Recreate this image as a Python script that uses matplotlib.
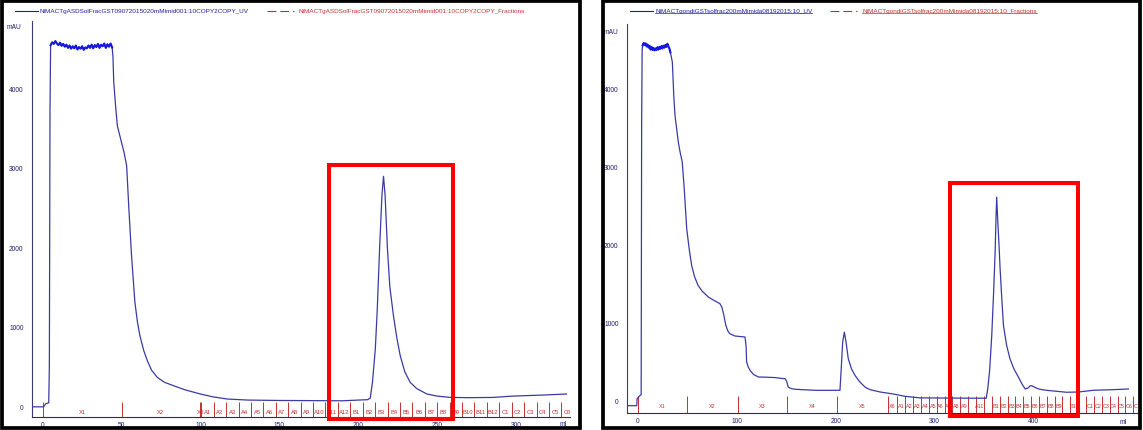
"""Two AKTA UV chromatograms side by side, with fraction marks and highlight boxes."""

import matplotlib

matplotlib.use("Agg")
import matplotlib.pyplot as plt
from matplotlib.lines import Line2D
from matplotlib.patches import Rectangle

W, H = 1143, 431

UV_COLOR = "#3a3aa6"
PLATEAU_COLOR = "#1418e0"
FRAC_COLOR = "#c43030"
TEXT_BLUE = "#1e1ea0"
TICK_COLOR = "#1e1e6e"
FONT = ["Liberation Sans", "DejaVu Sans"]

# ---- left run ---------------------------------------------------------------
left_uv_name = "NiMACTgASDSolFracGST09072015020mMimid001:10COPY2COPY_UV"
left_frac_name = "NiMACTgASDSolFracGST09072015020mMimid001:10COPY2COPY_Fractions"

left_ml = [-6.8, 0.5, 2.0, 3.8, 4.2, 4.4, 4.6,
           5, 6, 7, 8, 9, 10, 11, 12, 13, 14, 15, 16, 17, 18, 19, 20, 21, 22, 23, 24,
           25, 26, 27, 28, 29, 30, 31, 32, 33, 34, 35, 36, 37, 38, 39, 40, 41, 42, 43, 44,
           44.5, 45, 46.2, 47.3, 49.5, 51.5, 53.2, 54.6, 56.3, 58.4, 60, 61.6, 64, 66.3,
           69, 72.6, 77, 83, 90, 100, 108, 117, 130, 150, 170, 190, 200, 206,
           207.6, 209, 210.8, 212, 213.5, 215, 216, 217, 218.5, 220, 222.3, 224.5, 226.6,
           229.5, 232.9, 237, 243.5, 250, 258, 270, 285, 298, 317, 332]
left_mau = [-10, -10, 30, 40, 500, 2000, 3700,
            4540, 4575, 4555, 4590, 4560, 4540, 4570, 4530, 4555, 4520, 4545, 4505, 4535,
            4495, 4525, 4500, 4535, 4485, 4515, 4495, 4525, 4480, 4510, 4500, 4535, 4505,
            4545, 4500, 4540, 4515, 4555, 4505, 4545, 4525, 4560, 4505, 4550, 4520, 4560, 4510,
            4400, 4080, 3770, 3525, 3350, 3195, 3020, 2480, 1890, 1310, 1060, 884, 700, 570,
            450, 361, 300, 255, 205, 151, 115, 88, 75, 70, 68, 66, 75, 80,
            100, 300, 717, 1200, 1975, 2650, 2890, 2650, 1975, 1500, 1136, 850, 633,
            430, 298, 220, 151, 125, 109, 105, 108, 125, 138, 151]

left_frac_edges = [0, 50, 99.6, 100.5, 108.4, 116.2, 124.1, 132.0, 139.9, 147.7, 155.6,
                   163.5, 171.3, 179.2, 187.1, 194.9, 202.8, 210.7, 218.6, 226.4, 234.3,
                   242.2, 250.0, 257.9, 265.8, 273.6, 281.5, 289.4, 297.3, 305.1, 313.0,
                   320.9, 328.7, 336.6]
left_frac_labels = ["X1", "X2", "X3",
                    "A1", "A2", "A3", "A4", "A5", "A6", "A7", "A8", "A9", "A10", "A11", "A12",
                    "B1", "B2", "B3", "B4", "B5", "B6", "B7", "B8", "B9", "B10", "B11", "B12",
                    "C1", "C2", "C3", "C4", "C5", "C6"]
left_xticks = [0, 50, 100, 150, 200, 250, 300]

# ---- right run --------------------------------------------------------------
right_uv_name = "NiMACTgondiGSTsolfrac200mMimida08192015:10_UV"
right_frac_name = "NiMACTgondiGSTsolfrac200mMimida08192015:10_Fractions"

right_ml = [-10.8, -1, -0.5, 2.3, 3.5, 4.0, 4.5,
            5, 6, 7, 8, 9, 10, 11, 12, 13, 14, 15, 16, 17, 18, 19, 20, 21, 22, 23, 24,
            25, 26, 27, 28, 29, 30, 31, 32, 33,
            35, 36.5, 37.7, 41, 43, 45, 47, 49.5, 52, 54.5, 57.5, 61, 65, 71.3, 77, 83,
            85, 87, 89, 91, 93, 98.3, 108.4, 109.5, 110, 111.5, 113.5, 117, 122, 130,
            139, 145, 149, 150.5, 152, 155, 159, 179, 204.3, 205.5, 207, 208.7, 210.5,
            212.7, 216, 219.5, 224, 229.6, 234.7, 245, 258, 270, 285, 320, 352,
            353.5, 355.5, 357.6, 359.5, 361, 362, 362.6, 363.5, 365, 366, 367.8, 369.4,
            372.5, 376, 380, 384.5, 388, 391.4, 394, 396.5, 398, 401, 406, 413, 433,
            445, 460, 480, 495.6]
right_mau = [-60, -60, 30, 70, 80, 3600, 4500,
             4560, 4590, 4565, 4585, 4545, 4570, 4530, 4555, 4505, 4540, 4500, 4525, 4495,
             4520, 4500, 4535, 4505, 4540, 4515, 4550, 4520, 4555, 4530, 4565, 4540, 4580,
             4545, 4520, 4470,
             4345, 3900, 3660, 3320, 3180, 3064, 2721, 2208, 1950, 1738, 1590, 1482, 1410,
             1333, 1290, 1248, 1205, 1100, 970, 900, 863, 833, 820, 700, 500, 440, 392,
             340, 307, 305, 300, 290, 285, 250, 178, 160, 150, 137, 137, 400, 750, 883,
             750, 541, 410, 328, 250, 178, 145, 115, 90, 60, 40, 37, 35,
             150, 400, 841, 1400, 1910, 2400, 2612, 2350, 1980, 1700, 1300, 970,
             720, 541, 410, 307, 220, 154, 165, 195, 196, 175, 150, 137, 112,
             115, 137, 145, 154]

right_frac_edges = [0, 50, 101, 151, 201.5, 252.5, 262.3, 270.2, 278.2, 286.1, 294.1,
                    302.0, 309.9, 317.9, 325.8, 333.8, 341.7, 349.6, 357.6, 365.5, 373.5,
                    381.4, 389.3, 397.3, 405.2, 413.2, 421.1, 429.0, 437.0, 444.9, 452.9,
                    460.8, 468.7, 476.7, 484.6, 492.6, 500.5, 508.4]
# labels that the instrument software left out for lack of room are blank
right_frac_labels = ["X1", "X2", "X3", "X4", "X5", "X6",
                     "A1", "A2", "A3", "A4", "A5", "A6", "A7", "A8", "A9", "", "A11", "",
                     "B1", "B2", "B3", "B4", "B5", "B6", "B7", "B8", "B9", "", "B11", "",
                     "C1", "C2", "C3", "C4", "C5", "C6", "C7"]
right_xticks = [0, 100, 200, 300, 400]

yticks = [0, 1000, 2000, 3000, 4000]


def px_rect(x0, y0, x1, y1):
    """Pixel box (top-left origin) -> figure fraction [l, b, w, h]."""
    return [x0 / W, 1 - y1 / H, (x1 - x0) / W, (y1 - y0) / H]


def draw_panel(ax, ml, mau, plateau, edges, labels, xticks, xlim, ylim,
               ml_x, ml_y, frac_h, frac_y, frac_size, box):
    ax.plot(ml, mau, color=UV_COLOR, linewidth=0.9, zorder=3)
    sel = [i for i, v in enumerate(ml) if plateau[0] <= v <= plateau[1]]
    ax.plot([ml[i] for i in sel], [mau[i] for i in sel], color=PLATEAU_COLOR,
            linewidth=1.5, zorder=4)

    ax.set_xlim(*xlim)
    ax.set_ylim(*ylim)
    ax.set_xticks(xticks)
    ax.set_yticks(yticks)
    ax.tick_params(length=0, labelsize=4.8, colors=TICK_COLOR, pad=3)
    ax.tick_params(axis="y", pad=6)
    for lab in ax.get_xticklabels() + ax.get_yticklabels():
        lab.set_family(FONT)
    for side in ("top", "right"):
        ax.spines[side].set_visible(False)
    ax.spines["left"].set_color("#3c3c70")
    ax.spines["bottom"].set_color("#303040")
    ax.spines["left"].set_linewidth(0.8)
    ax.spines["bottom"].set_linewidth(0.8)

    trans = ax.get_xaxis_transform()
    ax.vlines(edges, 0, frac_h, transform=trans, color=FRAC_COLOR, linewidth=0.7, zorder=2)
    for lo, hi, lab in zip(edges[:-1], edges[1:], labels):
        if lab:
            ax.text((lo + hi) / 2, frac_y, lab, transform=trans, ha="center", va="center",
                    fontsize=frac_size, color=FRAC_COLOR, family=FONT, clip_on=True)

    ax.text(ml_x, ml_y, "ml", transform=trans, ha="center", va="center",
            fontsize=4.8, color=TICK_COLOR, family=FONT, clip_on=False)

    x0, x1, y0, y1 = box
    ax.add_patch(Rectangle((x0, y0), x1 - x0, y1 - y0, fill=False, edgecolor="#ff0000",
                           linewidth=2.9, clip_on=False, zorder=10))


def draw_legend(fig, x0, y, uv_name, frac_name, underline=False):
    renderer = fig.canvas.get_renderer()
    fy = 1 - y / H
    fig.add_artist(Line2D([x0 / W, (x0 + 23) / W], [fy, fy], color=TEXT_BLUE, linewidth=0.8))
    t1 = fig.text((x0 + 25) / W, fy, uv_name, color=TEXT_BLUE, fontsize=4.6,
                  family=FONT, ha="left", va="center")
    bb1 = t1.get_window_extent(renderer)
    fig.add_artist(Line2D([(bb1.x1 + 18) / W, (bb1.x1 + 45) / W], [fy, fy],
                          color=FRAC_COLOR, linewidth=0.8, dashes=(8, 3.5)))
    t2 = fig.text((bb1.x1 + 50) / W, fy, frac_name, color=FRAC_COLOR, fontsize=4.6,
                  family=FONT, ha="left", va="center")
    if underline:
        bb2 = t2.get_window_extent(renderer)
        for bb, col in ((bb1, TEXT_BLUE), (bb2, FRAC_COLOR)):
            uy = (bb.y0 + 0.3) / H
            fig.add_artist(Line2D([bb.x0 / W, bb.x1 / W], [uy, uy], color=col, linewidth=0.5))


fig = plt.figure(figsize=(W / 100, H / 100), dpi=100)
fig.patch.set_facecolor("white")

ax_l = fig.add_axes(px_rect(32, 22, 570, 418))
draw_panel(ax_l, left_ml, left_mau, (4.8, 44.2), left_frac_edges, left_frac_labels,
           left_xticks, xlim=(-6.8, 334.2), ylim=(-138, 4843),
           ml_x=329.5, ml_y=-0.017, frac_h=0.038, frac_y=0.013, frac_size=4.2,
           box=(181.4, 260.0, -157, 3031))

ax_r = fig.add_axes(px_rect(627, 25, 1138, 414))
draw_panel(ax_r, right_ml, right_mau, (4.8, 33.2), right_frac_edges, right_frac_labels,
           right_xticks, xlim=(-10.8, 505.3), ylim=(-154, 4833),
           ml_x=490.5, ml_y=-0.023, frac_h=0.044, frac_y=0.018, frac_size=3.9,
           box=(315.0, 444.8, -192, 2799))

fig.text(13.5 / W, 1 - 28 / H, "mAU", fontsize=4.8, color=TICK_COLOR, family=FONT,
         ha="center", va="center")
fig.text(611 / W, 1 - 32 / H, "mAU", fontsize=4.8, color=TICK_COLOR, family=FONT,
         ha="center", va="center")

draw_legend(fig, 15, 12, left_uv_name, left_frac_name)
draw_legend(fig, 630, 12, right_uv_name, right_frac_name, underline=True)

# black frames round each panel
for x0, x1 in ((2, 580), (603, 1140)):
    fig.add_artist(Rectangle((x0 / W, 1 - 429 / H), (x1 - x0) / W, 427 / H,
                             transform=fig.transFigure, fill=False, edgecolor="black",
                             linewidth=2.7, zorder=20))

fig.savefig("out.png", dpi=100, facecolor="white")
plt.close(fig)
